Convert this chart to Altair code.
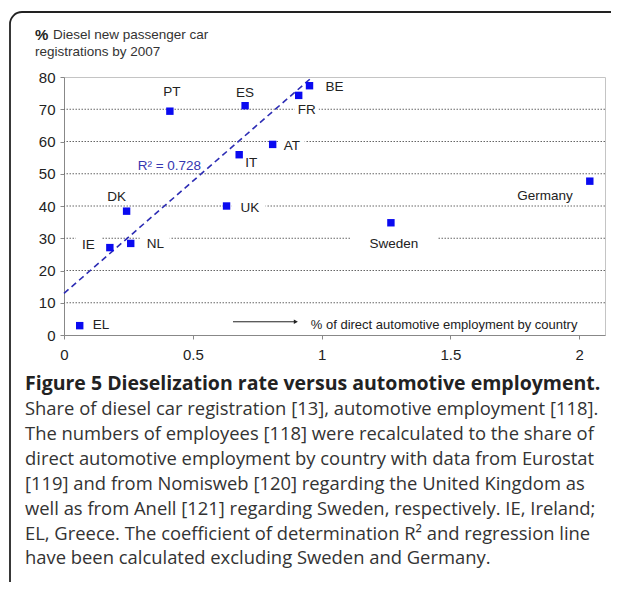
import altair as alt
import pandas as pd

# ---------------- data ----------------
countries = ["EL", "IE", "DK", "NL", "PT", "UK", "IT", "ES", "AT", "FR", "BE", "Sweden", "Germany"]
employment = [0.061, 0.178, 0.243, 0.259, 0.411, 0.631, 0.680, 0.703, 0.810, 0.911, 0.953, 1.269, 2.041]
diesel = [2.9, 27.1, 38.4, 28.4, 69.4, 40.0, 55.9, 71.1, 59.1, 74.3, 77.3, 34.8, 47.7]

# regression line (as drawn), excluding Sweden and Germany
reg_x = [0.0, 0.964]
reg_y = [12.9, 80.0]
r2_text = "R\u00b2 = 0.728"

x_ticks = [0, 0.5, 1, 1.5, 2]
y_ticks = [0, 10, 20, 30, 40, 50, 60, 70, 80]
grid_values = [10, 20, 30, 40, 50, 60, 70]

y_title_1 = "Diesel new passenger car"
y_title_2 = "registrations by 2007"
x_note = "% of direct automotive employment by country"

caption_title = "Figure 5 Dieselization rate versus automotive employment."
caption_lines = [
    "Share of diesel car registration [13], automotive employment [118].",
    "The numbers of employees [118] were recalculated to the share of",
    "direct automotive employment by country with data from Eurostat",
    "[119] and from Nomisweb [120] regarding the United Kingdom as",
    "well as from Anell [121] regarding Sweden, respectively. IE, Ireland;",
    "EL, Greece. The coefficient of determination R\u00b2 and regression line",
    "have been calculated excluding Sweden and Germany.",
]

# ---------------- layout (label placement, not data) ----------------
# country: (align, dx, dy, box_dx, box_width)
placement = {
    "EL": ("left", 13, -1, None, None),
    "IE": ("right", -15, -3, -21, 26),
    "DK": ("center", -10, -14, None, None),
    "NL": ("left", 16, 1, 24, 30),
    "PT": ("center", 2, -19, None, None),
    "UK": ("left", 14, 2, 22, 34),
    "IT": ("left", 6, 8, None, None),
    "ES": ("center", 0, -13, None, None),
    "AT": ("left", 11, 2, 19, 26),
    "FR": ("center", 8, 15, 8, 24),
    "BE": ("left", 16, 1, None, None),
    "Sweden": ("center", 3, 21, 3, 87),
    "Germany": ("right", -17, 15, None, None),
}

FONT = "Liberation Sans"
BLUE = "#0a0af0"
LINE_BLUE = "#2c2cb4"
W, H = 541, 258

df = pd.DataFrame({"country": countries, "emp": employment, "diesel": diesel})
reg_df = pd.DataFrame({"emp": reg_x, "diesel": reg_y})
grid_df = pd.DataFrame({"diesel": grid_values})

xs = alt.Scale(domain=[0, 2.1], nice=False, zero=False)
ys = alt.Scale(domain=[0, 80], nice=False)

x_axis = alt.Axis(
    values=x_ticks, format="~g", title=None, grid=False, labelFont=FONT,
    labelFontSize=15, labelColor="#222", tickSize=4, tickColor="#888",
    domainColor="#888", labelPadding=8, labelFlush=False, labelOverlap=False)
y_axis = alt.Axis(
    values=y_ticks, title=None, grid=False, labelFont=FONT, labelFontSize=15,
    labelColor="#222", tickSize=4, tickColor="#888", domainColor="#888",
    labelPadding=5, labelOverlap=False, labelFlush=False)
x_enc = alt.X("emp:Q", scale=xs, axis=x_axis)
y_enc = alt.Y("diesel:Q", scale=ys, axis=y_axis)

layers = []

# dotted gridlines
layers.append(alt.Chart(grid_df).mark_rule(color="#666", strokeDash=[1.5, 1.5], strokeWidth=1)
              .encode(y=y_enc))

# white label boxes that interrupt the gridlines
for c, (al, dx, dy, bdx, bw) in placement.items():
    if bw is None:
        continue
    r = 8.0 / (bw / 2.0)
    path = f"M-1,-{r:.3f}L1,-{r:.3f}L1,{r:.3f}L-1,{r:.3f}Z"
    layers.append(
        alt.Chart(df).transform_filter(alt.datum.country == c)
        .mark_point(shape=path, size=bw * bw, filled=True, color="white", opacity=1,
                    xOffset=bdx, yOffset=dy)
        .encode(x=x_enc, y=y_enc))

# regression line
layers.append(alt.Chart(reg_df).mark_line(color=LINE_BLUE, strokeDash=[6, 4], strokeWidth=1.6)
              .encode(x=x_enc, y=y_enc))

# points
layers.append(alt.Chart(df).mark_square(size=55, color=BLUE, opacity=1, filled=True)
              .encode(x=x_enc, y=y_enc))

# point labels
for c, (al, dx, dy, bdx, bw) in placement.items():
    layers.append(
        alt.Chart(df).transform_filter(alt.datum.country == c)
        .mark_text(align=al, baseline="middle", dx=dx, dy=dy, font=FONT, fontSize=13.5, color="#222")
        .encode(x=x_enc, y=y_enc, text="country:N"))

# R^2 annotation
r2_df = pd.DataFrame({"emp": [0.286], "diesel": [52.4], "t": [r2_text]})
layers.append(alt.Chart(r2_df).mark_text(align="left", baseline="middle", font=FONT, fontSize=13.5,
                                         color="#3535b0")
              .encode(x=x_enc, y=y_enc, text="t:N"))

# arrow + x note
arrow_df = pd.DataFrame({"emp": [0.656, 0.900], "diesel": [4.1, 4.1]})
layers.append(alt.Chart(arrow_df).mark_line(color="#222", strokeWidth=1)
              .encode(x=x_enc, y=y_enc))
head_df = pd.DataFrame({"emp": [0.900], "diesel": [4.1]})
layers.append(alt.Chart(head_df).mark_point(shape="triangle-right", size=22, filled=True, color="#222",
                                            opacity=1)
              .encode(x=x_enc, y=y_enc))
note_df = pd.DataFrame({"emp": [0.958], "diesel": [3.1], "t": [x_note]})
layers.append(alt.Chart(note_df).mark_text(align="left", baseline="middle", font=FONT, fontSize=13,
                                           color="#222")
              .encode(x=x_enc, y=y_enc, text="t:N"))

one = pd.DataFrame({"a": [0]})

# y title (above the axis)
layers.append(alt.Chart(one).mark_text(align="left", baseline="middle", font=FONT, fontSize=15,
                                       fontWeight="bold", color="#222", text="%")
              .encode(x=alt.value(-29), y=alt.value(-42)))
layers.append(alt.Chart(one).mark_text(align="left", baseline="middle", font=FONT, fontSize=13.5,
                                       color="#333", text=y_title_1)
              .encode(x=alt.value(-11), y=alt.value(-42)))
layers.append(alt.Chart(one).mark_text(align="left", baseline="middle", font=FONT, fontSize=13.5,
                                       color="#333", text=y_title_2)
              .encode(x=alt.value(-29), y=alt.value(-25)))

# caption
layers.append(alt.Chart(one).mark_text(align="left", baseline="alphabetic", font="Open Sans",
                                       fontSize=19.5, fontWeight="bold", color="#222",
                                       text=caption_title)
              .encode(x=alt.value(-39), y=alt.value(313)))
layers.append(alt.Chart(one).mark_text(align="left", baseline="alphabetic", font="Open Sans",
                                       fontSize=18.4, color="#333", lineHeight=24.9,
                                       text=caption_lines)
              .encode(x=alt.value(-39), y=alt.value(338)))

# outer frame: top and left edges with a rounded top-left corner
FRAME = "#222"
layers.append(alt.Chart(one).mark_rule(color=FRAME, strokeWidth=1.8)
              .encode(x=alt.value(-42), x2=alt.value(2000), y=alt.value(-65)))
layers.append(alt.Chart(one).mark_rule(color=FRAME, strokeWidth=1.8)
              .encode(x=alt.value(-54), y=alt.value(-53), y2=alt.value(2000)))
layers.append(alt.Chart(one).mark_arc(theta=4.7124, theta2=6.2832, radius=12, radius2=12,
                                      fillOpacity=0, stroke=FRAME, strokeWidth=1.8)
              .encode(x=alt.value(-42), y=alt.value(-53)))

chart = alt.layer(*layers).properties(
    width=W, height=H,
    padding={"left": 56, "top": 69, "right": 6, "bottom": 247},
    autosize=alt.AutoSizeParams(type="none"),
    background="white",
).configure_view(stroke="#c4c4c4", strokeWidth=1)

chart.save("out.html", embed_options={"renderer": "svg", "actions": False})
